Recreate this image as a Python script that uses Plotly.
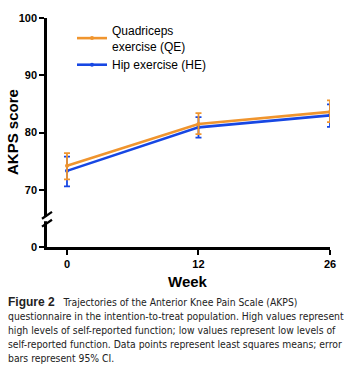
import plotly.graph_objects as go

weeks = ["0", "12", "26"]
x_pos = [0, 1, 2]
qe_mean = [74.2, 81.5, 83.6]
qe_upper = [76.4, 83.4, 85.6]
qe_lower = [71.8, 79.7, 81.8]
he_mean = [73.3, 80.9, 83.0]
he_upper = [75.8, 82.7, 84.9]
he_lower = [70.6, 79.1, 81.0]

y_tickvals = [60, 70, 80, 90, 100]
y_ticktext = ["0", "70", "80", "90", "100"]

caption_lines = [
    "<span style='font-family:Liberation Sans, Arial;font-weight:bold;font-size:12px'>Figure 2</span>"
    "   Trajectories of the Anterior Knee Pain Scale (AKPS)",
    "questionnaire in the intention-to-treat population. High values represent",
    "high levels of self-reported function; low values represent low levels of",
    "self-reported function. Data points represent least squares means; error",
    "bars represent 95% CI.",
]

ORANGE = "#F0952E"
BLUE = "#1747E3"

def err(mean, up, lo):
    return dict(type="data", symmetric=False,
                array=[u - m for u, m in zip(up, mean)],
                arrayminus=[m - l for m, l in zip(mean, lo)],
                thickness=1.8, width=3)

fig = go.Figure()
fig.add_trace(go.Scatter(
    x=x_pos, y=he_mean, mode="lines+markers", name="Hip exercise (HE)",
    line=dict(color=BLUE, width=2.6), marker=dict(color=BLUE, size=4),
    error_y=dict(err(he_mean, he_upper, he_lower), color=BLUE),
    legendrank=2))
fig.add_trace(go.Scatter(
    x=x_pos, y=qe_mean, mode="lines+markers", name="Quadriceps<br>exercise (QE)",
    line=dict(color=ORANGE, width=2.6), marker=dict(color=ORANGE, size=4),
    error_y=dict(err(qe_mean, qe_upper, qe_lower), color=ORANGE),
    legendrank=1))

L, R, T, B = 47, 18, 16, 124
W, H = 348, 371
pw = W - L - R
ph = H - T - B

def px_x(p):
    return (p - L) / pw

def px_y(p):
    return (H - B - p) / ph

fig.update_layout(
    width=W, height=H,
    margin=dict(l=L, r=R, t=T, b=B),
    paper_bgcolor="white", plot_bgcolor="white",
    font=dict(family="Liberation Sans, Arial, sans-serif", color="black"),
    showlegend=True,
    legend=dict(x=px_x(72), y=px_y(14), xanchor="left", yanchor="top",
                bgcolor="rgba(0,0,0,0)", font=dict(size=12, color="black"),
                tracegroupgap=0, itemwidth=30),
    xaxis=dict(range=[-0.152, 2], tickvals=x_pos, ticktext=weeks,
               showline=True, linecolor="black", linewidth=2.5,
               ticks="outside", ticklen=5, tickwidth=2, tickcolor="black",
               showgrid=False, zeroline=False,
               tickfont=dict(size=11, family="Liberation Sans, Arial", weight="bold")),
    yaxis=dict(range=[60, 100], tickvals=y_tickvals, ticktext=y_ticktext,
               showline=True, linecolor="black", linewidth=2.5,
               ticks="outside", ticklen=5, tickwidth=2, tickcolor="black",
               showgrid=False, zeroline=False,
               tickfont=dict(size=11, family="Liberation Sans, Arial", weight="bold")),
)

# axis break
fig.add_shape(type="rect", xref="paper", yref="paper",
              x0=px_x(44), x1=px_x(50), y0=px_y(221), y1=px_y(216.5),
              fillcolor="white", line=dict(width=0), layer="above")
for yc in (215, 223):
    fig.add_shape(type="line", xref="paper", yref="paper",
                  x0=px_x(42), x1=px_x(52), y0=px_y(yc + 3.5), y1=px_y(yc - 3.5),
                  line=dict(color="black", width=2.2), layer="above")

# axis titles
fig.add_annotation(text="<b>AKPS score</b>", xref="paper", yref="paper",
                   x=px_x(12), y=px_y(131), textangle=-90, showarrow=False,
                   xanchor="center", yanchor="middle",
                   font=dict(size=15, family="Liberation Sans, Arial"))
fig.add_annotation(text="<b>Week</b>", xref="paper", yref="paper",
                   x=px_x(188), y=px_y(282), showarrow=False,
                   xanchor="center", yanchor="middle",
                   font=dict(size=15, family="Liberation Sans, Arial"))

line_y = [302.3, 316.7, 331.0, 345.3, 359.3]
for txt, yy in zip(caption_lines, line_y):
    fig.add_annotation(text=txt, xref="paper", yref="paper",
                       x=px_x(6), y=px_y(yy), xanchor="left", yanchor="middle",
                       align="left", showarrow=False,
                       font=dict(size=10.3,
                                 family="Liberation Sans Narrow, DejaVu Sans Condensed, Arial Narrow, sans-serif",
                                 color="#222222"))

fig.write_html("out.html")
